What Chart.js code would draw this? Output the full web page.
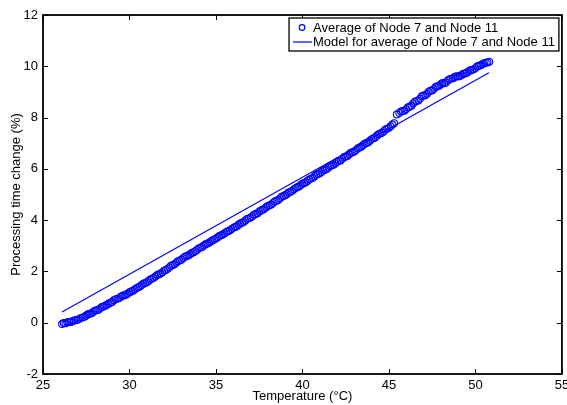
<!DOCTYPE html>
<html>
<head>
<meta charset="utf-8">
<script src="https://cdn.jsdelivr.net/npm/chart.js@4.4.1/dist/chart.umd.min.js"></script>
<style>
  html, body { margin: 0; padding: 0; background: #fff; }
  #wrap { width: 567px; height: 405px; }
</style>
</head>
<body>
<div id="wrap"><canvas id="chart" width="567" height="405"></canvas></div>
<script>
const tempC = [
  26.1, 26.2, 26.3, 26.4, 26.5, 26.6, 26.7, 26.8, 26.9, 27.0,
  27.1, 27.2, 27.3, 27.4, 27.5, 27.6, 27.7, 27.8, 27.9, 28.0,
  28.1, 28.2, 28.3, 28.4, 28.5, 28.6, 28.7, 28.8, 28.9, 29.0,
  29.1, 29.2, 29.3, 29.4, 29.5, 29.6, 29.7, 29.8, 29.9, 30.0,
  30.1, 30.2, 30.3, 30.4, 30.5, 30.6, 30.7, 30.8, 30.9, 31.0,
  31.1, 31.2, 31.3, 31.4, 31.5, 31.6, 31.7, 31.8, 31.9, 32.0,
  32.1, 32.2, 32.3, 32.4, 32.5, 32.6, 32.7, 32.8, 32.9, 33.0,
  33.1, 33.2, 33.3, 33.4, 33.5, 33.6, 33.7, 33.8, 33.9, 34.0,
  34.1, 34.2, 34.3, 34.4, 34.5, 34.6, 34.7, 34.8, 34.9, 35.0,
  35.1, 35.2, 35.3, 35.4, 35.5, 35.6, 35.7, 35.8, 35.9, 36.0,
  36.1, 36.2, 36.3, 36.4, 36.5, 36.6, 36.7, 36.8, 36.9, 37.0,
  37.1, 37.2, 37.3, 37.4, 37.5, 37.6, 37.7, 37.8, 37.9, 38.0,
  38.1, 38.2, 38.3, 38.4, 38.5, 38.6, 38.7, 38.8, 38.9, 39.0,
  39.1, 39.2, 39.3, 39.4, 39.5, 39.6, 39.7, 39.8, 39.9, 40.0,
  40.1, 40.2, 40.3, 40.4, 40.5, 40.6, 40.7, 40.8, 40.9, 41.0,
  41.1, 41.2, 41.3, 41.4, 41.5, 41.6, 41.7, 41.8, 41.9, 42.0,
  42.1, 42.2, 42.3, 42.4, 42.5, 42.6, 42.7, 42.8, 42.9, 43.0,
  43.1, 43.2, 43.3, 43.4, 43.5, 43.6, 43.7, 43.8, 43.9, 44.0,
  44.1, 44.2, 44.3, 44.4, 44.5, 44.6, 44.7, 44.8, 44.9, 45.0,
  45.1, 45.2, 45.3, 45.45, 45.6, 45.7, 45.8, 45.9, 46.0, 46.1,
  46.2, 46.3, 46.4, 46.5, 46.6, 46.7, 46.8, 46.9, 47.0, 47.1,
  47.2, 47.3, 47.4, 47.5, 47.6, 47.7, 47.8, 47.9, 48.0, 48.1,
  48.2, 48.3, 48.4, 48.5, 48.6, 48.7, 48.8, 48.9, 49.0, 49.1,
  49.2, 49.3, 49.4, 49.5, 49.6, 49.7, 49.8, 49.9, 50.0, 50.1,
  50.2, 50.3, 50.4, 50.5, 50.6, 50.7, 50.8
];
const avgChange = [
  -0.05, -0.01, -0.02, 0.02, 0.03, 0.03, 0.06, 0.09, 0.10, 0.12,
  0.15, 0.19, 0.21, 0.23, 0.28, 0.33, 0.35, 0.37, 0.42, 0.47,
  0.49, 0.51, 0.56, 0.61, 0.63, 0.66, 0.70, 0.75, 0.78, 0.81,
  0.88, 0.92, 0.93, 0.96, 1.01, 1.05, 1.07, 1.09, 1.14, 1.19,
  1.22, 1.25, 1.30, 1.35, 1.38, 1.41, 1.47, 1.52, 1.55, 1.58,
  1.63, 1.69, 1.72, 1.75, 1.80, 1.86, 1.89, 1.92, 1.97, 2.03,
  2.06, 2.10, 2.16, 2.22, 2.25, 2.28, 2.34, 2.40, 2.43, 2.46,
  2.52, 2.57, 2.60, 2.62, 2.67, 2.72, 2.75, 2.79, 2.84, 2.90,
  2.93, 2.95, 3.01, 3.06, 3.09, 3.12, 3.17, 3.22, 3.25, 3.28,
  3.33, 3.38, 3.41, 3.44, 3.49, 3.54, 3.57, 3.60, 3.65, 3.70,
  3.73, 3.76, 3.82, 3.87, 3.90, 3.93, 3.99, 4.05, 4.07, 4.10,
  4.15, 4.21, 4.24, 4.27, 4.33, 4.38, 4.41, 4.44, 4.50, 4.55,
  4.58, 4.61, 4.67, 4.73, 4.76, 4.79, 4.85, 4.91, 4.94, 4.97,
  5.02, 5.08, 5.11, 5.14, 5.20, 5.25, 5.28, 5.31, 5.37, 5.42,
  5.45, 5.48, 5.54, 5.59, 5.62, 5.65, 5.71, 5.77, 5.80, 5.83,
  5.88, 5.94, 5.97, 5.99, 6.05, 6.11, 6.14, 6.16, 6.22, 6.28,
  6.31, 6.33, 6.39, 6.45, 6.48, 6.50, 6.57, 6.63, 6.65, 6.68,
  6.74, 6.80, 6.83, 6.86, 6.92, 6.98, 7.01, 7.04, 7.10, 7.16,
  7.19, 7.22, 7.29, 7.35, 7.38, 7.41, 7.47, 7.54, 7.57, 7.60,
  7.66, 7.73, 7.78, 8.12, 8.18, 8.24, 8.26, 8.27, 8.33, 8.40,
  8.42, 8.46, 8.55, 8.62, 8.65, 8.67, 8.74, 8.83, 8.86, 8.87,
  8.93, 9.01, 9.05, 9.06, 9.12, 9.19, 9.22, 9.24, 9.30, 9.35,
  9.34, 9.37, 9.45, 9.50, 9.52, 9.53, 9.58, 9.61, 9.60, 9.62,
  9.66, 9.71, 9.72, 9.75, 9.80, 9.85, 9.86, 9.88, 9.93, 9.99,
  10.02, 10.04, 10.08, 10.12, 10.14, 10.15, 10.18
];
const modelTemp = [26.1, 50.78];
const modelChange = [0.42, 9.75];

const xTicks = [25, 30, 35, 40, 45, 50, 55];
const yTicks = [-2, 0, 2, 4, 6, 8, 10, 12];
const seriesLabels = ['Average of Node 7 and Node 11', 'Model for average of Node 7 and Node 11'];

const FONT = 'Liberation Sans, Arial, Helvetica, sans-serif';
const BLUE = '#0000ff';

// matlab style box with inward ticks + legend inside the axes
const matlabAxes = {
  id: 'matlabAxes',
  afterDatasetsDraw(chart){
    const ctx = chart.ctx;
    const a = chart.chartArea;
    const xs = chart.scales.x, ys = chart.scales.y;
    ctx.save();
    ctx.strokeStyle = '#000';
    ctx.lineWidth = 1;
    ctx.beginPath();
    for(const v of xTicks){
      const px = Math.round(xs.getPixelForValue(v)) + 0.5;
      ctx.moveTo(px, a.bottom); ctx.lineTo(px, a.bottom - 5);
      ctx.moveTo(px, a.top); ctx.lineTo(px, a.top + 5);
    }
    for(const v of yTicks){
      const py = Math.round(ys.getPixelForValue(v)) + 0.5;
      ctx.moveTo(a.left, py); ctx.lineTo(a.left + 5, py);
      ctx.moveTo(a.right, py); ctx.lineTo(a.right - 5, py);
    }
    ctx.stroke();
    ctx.lineWidth = 1.8;
    ctx.strokeRect(a.left, a.top, a.right - a.left, a.bottom - a.top);

    // legend
    ctx.font = '13px ' + FONT;
    const labels = chart.data.datasets.map(d => d.label);
    const tw = Math.max(...labels.map(l => ctx.measureText(l).width));
    const w = tw + 28, h = 33;
    const right = a.right - 3, top = a.top + 3, left = right - w;
    ctx.fillStyle = '#fff';
    ctx.fillRect(left, top, w, h);
    ctx.lineWidth = 1.3;
    ctx.strokeRect(left, top, w, h);
    const rows = [top + 9.5, top + 24];
    ctx.strokeStyle = BLUE;
    ctx.lineWidth = 1.2;
    ctx.beginPath(); ctx.arc(left + 13, rows[0], 2.8, 0, Math.PI * 2); ctx.stroke();
    ctx.beginPath(); ctx.moveTo(left + 4, rows[1]); ctx.lineTo(left + 23, rows[1]); ctx.stroke();
    ctx.fillStyle = '#000';
    ctx.textBaseline = 'middle';
    ctx.textAlign = 'left';
    ctx.fillText(labels[0], left + 24, rows[0] + 0.5);
    ctx.fillText(labels[1], left + 24, rows[1] + 0.5);
    ctx.restore();
  }
};

const ctx = document.getElementById('chart').getContext('2d');
new Chart(ctx, {
  type: 'scatter',
  data: {
    datasets: [
      {
        label: seriesLabels[0],
        data: tempC.map((t, i) => ({x: t, y: avgChange[i]})),
        showLine: false,
        pointStyle: 'circle',
        pointRadius: 3.4,
        pointBorderWidth: 1.1,
        borderColor: BLUE,
        pointBorderColor: BLUE,
        pointBackgroundColor: 'rgba(0,0,0,0)',
        order: 2
      },
      {
        label: seriesLabels[1],
        data: modelTemp.map((t, i) => ({x: t, y: modelChange[i]})),
        showLine: true,
        borderColor: BLUE,
        borderWidth: 1.2,
        pointRadius: 0,
        order: 1
      }
    ]
  },
  options: {
    responsive: false,
    animation: false,
    devicePixelRatio: 1,
    layout: { padding: { left: 0, top: 15, right: 5, bottom: 0 } },
    plugins: {
      legend: { display: false },
      tooltip: { enabled: false }
    },
    scales: {
      x: {
        type: 'linear', min: 25, max: 55,
        afterBuildTicks: s => { s.ticks = xTicks.map(v => ({value: v})); },
        afterFit: s => { s.height = 31; s.paddingLeft = 0; s.paddingRight = 0; },
        grid: { display: false, drawTicks: false },
        border: { display: false },
        ticks: { color: '#000', font: { family: FONT, size: 13 }, padding: 4, maxRotation: 0 },
        title: { display: true, text: 'Temperature (°C)', color: '#000', font: { family: FONT, size: 13 }, padding: { top: 0, bottom: 1 } }
      },
      y: {
        type: 'linear', min: -2, max: 12,
        afterBuildTicks: s => { s.ticks = yTicks.map(v => ({value: v})); },
        afterFit: s => { s.width = 43; s.paddingTop = 0; s.paddingBottom = 0; },
        grid: { display: false, drawTicks: false },
        border: { display: false },
        ticks: { color: '#000', font: { family: FONT, size: 13 }, padding: 5 },
        title: { display: true, text: 'Processing time change (%)', color: '#000', font: { family: FONT, size: 13 }, padding: { top: 9, bottom: 0 } }
      }
    }
  },
  plugins: [matlabAxes]
});
</script>
</body>
</html>
